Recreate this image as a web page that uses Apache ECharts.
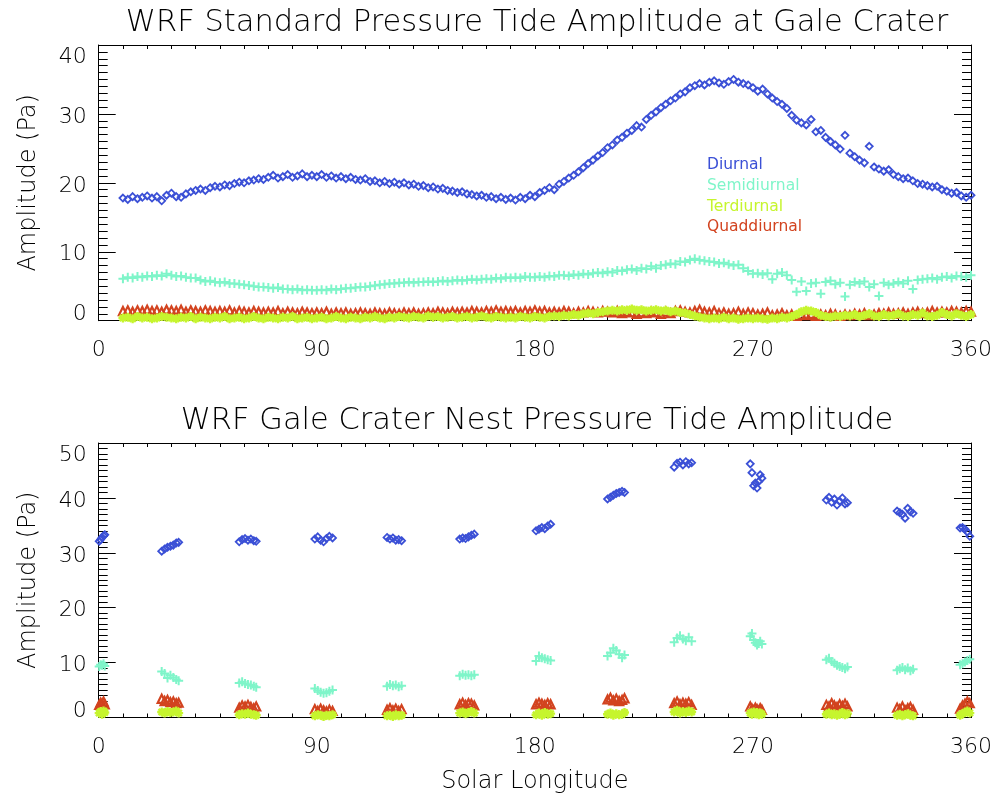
<!DOCTYPE html>
<html>
<head>
<meta charset="utf-8">
<script src="https://cdn.jsdelivr.net/npm/echarts@6/dist/echarts.min.js"></script>
<style>html,body{margin:0;padding:0;background:#fff}#c{width:995px;height:796px}</style>
</head>
<body>
<div id="c"></div>
<script>
// ---------- Top panel: WRF standard (Ls every 2 deg) ----------
const stdLs = [
10,12,14,16,18,20,22,24,26,28,
30,32,34,36,38,40,42,44,46,48,
50,52,54,56,58,60,62,64,66,68,
70,72,74,76,78,80,82,84,86,88,
90,92,94,96,98,100,102,104,106,108,
110,112,114,116,118,120,122,124,126,128,
130,132,134,136,138,140,142,144,146,148,
150,152,154,156,158,160,162,164,166,168,
170,172,174,176,178,180,182,184,186,188,
190,192,194,196,198,200,202,204,206,208,
210,212,214,216,218,220,222,224,226,228,
230,232,234,236,238,240,242,244,246,248,
250,252,254,256,258,260,262,264,266,268,
270,272,274,276,278,280,282,284,286,288,
290,292,294,296,298,300,302,304,306,308,
310,312,314,316,318,320,322,324,326,328,
330,332,334,336,338,340,342,344,346,348,
350,352,354,356,358,360];
const stdDiurnal = [
17.8,17.6,18.0,17.7,17.9,18.1,17.8,18.0,17.4,18.2,
18.5,18.0,17.9,18.4,18.7,18.9,19.1,18.9,19.3,19.5,
19.4,19.7,19.6,19.9,20.1,20.0,20.3,20.4,20.6,20.5,
20.8,21.1,20.7,20.9,21.2,20.8,21.0,21.3,20.9,21.1,
20.9,21.2,20.8,21.0,20.7,20.9,20.6,20.8,20.5,20.4,
20.6,20.2,20.3,20.0,20.2,19.9,20.1,19.8,20.0,19.7,
19.8,19.5,19.6,19.3,19.4,19.1,19.2,18.9,18.8,18.6,
18.7,18.4,18.3,18.1,18.2,17.9,18.0,17.7,17.9,17.6,
17.8,17.5,17.9,17.7,18.2,18.0,18.6,18.9,19.3,19.0,
19.8,20.2,20.7,21.1,21.6,22.2,22.8,23.3,23.9,24.4,
25.1,25.5,26.2,26.6,27.2,27.6,28.3,28.1,29.2,29.8,
30.3,30.9,31.4,31.9,32.3,32.9,33.2,33.8,34.1,34.4,
34.2,34.6,34.8,34.5,34.3,34.7,35.0,34.6,34.4,34.2,
33.8,33.3,33.6,32.9,32.3,31.8,31.4,30.8,29.8,29.1,
28.7,28.4,29.2,27.4,27.6,26.6,26.0,25.5,24.9,26.9,
24.3,23.8,23.3,22.9,25.3,22.3,22.0,21.7,21.9,21.2,
20.9,20.6,20.7,20.3,19.9,19.8,19.6,19.4,19.5,19.0,
18.8,18.5,18.6,18.1,17.9,18.2];
const stdSemidiurnal = [
6.1,6.3,6.2,6.4,6.3,6.5,6.4,6.6,6.5,6.8,
6.6,6.4,6.5,6.3,6.2,6.2,5.9,5.7,5.8,5.6,
5.5,5.6,5.4,5.4,5.3,5.2,5.1,5.0,4.9,4.9,
4.8,4.7,4.8,4.6,4.6,4.5,4.6,4.4,4.5,4.4,
4.4,4.5,4.4,4.6,4.5,4.6,4.7,4.7,4.8,4.9,
4.9,5.0,5.1,5.2,5.3,5.4,5.4,5.5,5.5,5.6,
5.5,5.6,5.6,5.7,5.6,5.7,5.8,5.7,5.8,5.9,
5.8,5.9,6.0,5.9,6.0,6.1,6.0,6.2,6.1,6.3,
6.2,6.3,6.2,6.4,6.3,6.3,6.4,6.3,6.5,6.4,
6.6,6.6,6.5,6.7,6.6,6.8,6.7,6.9,7.0,6.9,
7.1,7.0,7.3,7.2,7.4,7.5,7.3,7.6,7.5,7.9,
7.6,8.0,8.1,8.3,8.2,8.6,8.5,8.8,9.0,8.8,
8.7,8.6,8.5,8.3,8.4,8.2,8.0,8.1,7.6,7.2,
6.8,6.9,6.7,6.9,6.0,6.8,7.0,6.6,5.9,4.2,
5.7,4.3,5.4,5.5,3.9,5.6,5.8,5.3,5.5,3.5,
5.2,5.6,5.4,5.7,4.9,5.3,3.6,5.5,5.2,5.4,
5.6,5.4,5.8,4.6,5.9,6.0,6.1,6.2,6.0,6.3,
6.4,6.2,6.5,6.4,6.3,6.6];
const stdTerdiurnal = [
0.4,0.5,0.3,0.6,0.4,0.5,0.3,0.4,0.6,0.5,
0.4,0.3,0.5,0.4,0.6,0.3,0.5,0.4,0.3,0.5,
0.4,0.6,0.3,0.4,0.5,0.3,0.4,0.6,0.4,0.3,
0.5,0.4,0.3,0.5,0.4,0.6,0.3,0.4,0.5,0.3,
0.4,0.5,0.3,0.4,0.6,0.4,0.3,0.5,0.4,0.3,
0.5,0.4,0.6,0.4,0.3,0.5,0.4,0.6,0.5,0.4,
0.6,0.5,0.4,0.7,0.5,0.6,0.4,0.5,0.6,0.4,
0.5,0.6,0.4,0.5,0.7,0.5,0.4,0.6,0.5,0.4,
0.5,0.4,0.6,0.5,0.4,0.6,0.5,0.4,0.6,0.7,
0.6,0.8,0.7,0.9,0.8,1.0,1.1,1.0,1.2,1.3,
1.4,1.5,1.4,1.6,1.5,1.7,1.5,1.6,1.4,1.5,
1.6,1.4,1.5,1.3,1.4,1.2,1.1,0.9,0.7,0.5,
0.4,0.3,0.4,0.3,0.5,0.3,0.4,0.2,0.3,0.4,
0.3,0.4,0.3,0.2,0.4,0.3,0.5,0.4,0.6,0.9,
1.3,1.5,1.4,1.2,0.8,0.6,0.5,0.7,0.6,0.8,
0.7,0.9,0.6,0.8,1.0,0.7,0.6,0.9,0.7,0.8,
1.0,0.7,0.6,0.9,0.8,1.1,0.7,0.6,0.8,1.2,
0.9,0.7,1.0,0.8,0.6,0.9];
const stdQuaddiurnal = [
1.4,1.5,1.3,1.5,1.4,1.6,1.4,1.5,1.3,1.6,
1.5,1.4,1.6,1.3,1.5,1.4,1.3,1.5,1.4,1.3,
1.4,1.3,1.5,1.2,1.4,1.3,1.2,1.4,1.3,1.2,
1.3,1.2,1.4,1.1,1.3,1.2,1.1,1.3,1.2,1.1,
1.2,1.1,1.3,1.0,1.2,1.1,1.2,1.0,1.1,1.2,
1.1,1.0,1.2,1.1,1.0,1.2,1.1,1.0,1.2,1.1,
1.2,1.0,1.1,1.2,1.1,1.3,1.2,1.1,1.3,1.2,
1.3,1.2,1.4,1.3,1.2,1.4,1.3,1.5,1.3,1.4,
1.3,1.4,1.2,1.4,1.3,1.5,1.3,1.4,1.2,1.3,
1.2,1.4,1.3,1.1,1.3,1.2,1.4,1.3,1.2,1.4,
1.3,1.2,1.4,1.1,1.3,1.2,1.0,1.2,1.1,1.3,
1.2,1.0,1.3,1.1,1.4,1.5,1.3,1.2,1.4,1.6,
1.3,1.2,1.4,1.1,1.2,1.0,1.1,1.3,1.0,1.2,
1.1,0.9,1.0,1.2,0.8,0.9,1.1,0.8,0.9,0.7,
0.9,0.8,1.0,0.7,0.9,0.8,1.0,0.9,0.7,0.9,
0.8,1.0,0.9,1.1,0.8,0.9,1.1,1.0,1.2,1.0,
1.1,1.2,1.0,1.2,1.3,1.1,1.2,1.4,1.2,1.3,
1.2,1.4,1.3,1.2,1.4,1.3];

// ---------- Bottom panel: Gale Crater nest (clusters) ----------
const nestLs = [
0.2,0.8,1.4,2.0,2.5,
26,27.2,28.4,29.6,30.8,32,33,
58,59.2,60.4,61.6,62.8,64,65,
89.2,90.4,91.6,92.8,94,95.2,96.5,
119,120.2,121.4,122.6,123.8,125,
149,150.2,151.4,152.6,153.8,155,
180.5,181.7,182.9,184.1,185.3,186.5,
210,211.2,212.4,213.6,214.8,216,217,
237.5,238.7,239.9,241.1,242.3,243.5,244.7,
268.9,269.6,270.3,271.0,271.7,272.4,273.0,273.7,
300.3,301.4,302.5,303.6,304.7,305.8,306.9,308,309,
329.5,330.6,331.7,332.8,333.9,335,336.1,
355.5,356.5,357.5,358.5,359.5];
const nestDiurnal = [
32.1,32.4,32.8,33.1,33.3,
30.3,30.7,31.0,31.2,31.4,31.8,31.9,
32.0,32.4,32.6,32.3,32.5,32.2,32.1,
32.5,32.9,32.3,32.0,32.6,33.0,32.7,
32.8,32.5,32.7,32.3,32.4,32.2,
32.5,32.7,32.6,32.9,33.2,33.4,
34.0,34.3,34.6,34.4,34.9,35.2,
39.8,40.1,40.5,40.8,41.0,41.2,41.0,
45.6,46.3,46.5,46.0,46.6,46.2,46.4,
46.2,44.6,42.2,42.7,41.8,43.0,44.2,43.6,
39.6,40.1,39.2,39.8,38.7,39.4,40.0,38.9,39.1,
37.6,37.3,37.0,36.3,38.1,37.5,37.2,
34.5,34.6,34.3,33.8,33.0];
const nestSemidiurnal = [
9.3,9.6,9.5,9.8,9.4,
8.4,8.0,7.2,7.7,7.3,6.9,6.7,
6.3,6.5,6.2,6.0,5.9,5.7,5.5,
5.3,4.9,4.6,4.4,4.5,4.8,5.0,
5.7,6.0,5.8,5.9,5.6,5.8,
7.6,7.9,7.7,7.8,7.6,7.8,
10.3,11.2,10.9,10.7,10.5,10.4,
11.2,11.8,12.6,12.2,11.5,10.9,11.4,
13.7,14.5,14.9,14.3,14.0,14.6,13.9,
14.8,15.3,14.1,13.6,13.2,13.5,13.9,13.4,
10.5,10.8,10.2,9.9,9.5,9.3,9.1,8.9,9.2,
8.6,8.9,9.1,8.7,9.0,8.5,8.8,
9.6,9.8,10.1,10.4,10.6];
const nestTerdiurnal = [
0.8,1.1,0.6,1.2,0.9,
1.0,0.8,1.1,0.9,1.0,1.2,0.8,
0.5,0.7,0.6,0.8,0.6,0.5,0.4,
0.3,0.5,0.4,0.2,0.4,0.3,0.5,
0.3,0.4,0.2,0.5,0.3,0.4,
0.8,1.0,0.7,0.9,1.1,0.8,
0.5,0.8,0.4,0.9,0.6,0.7,
0.6,0.8,0.4,0.7,0.5,0.6,0.9,
1.0,1.3,0.8,1.1,0.9,1.2,1.0,
0.8,0.6,1.0,0.7,0.9,0.5,0.8,0.6,
0.6,0.8,0.5,0.7,0.4,0.6,0.9,0.5,0.7,
0.4,0.6,0.3,0.5,0.7,0.4,0.3,
0.4,0.7,0.9,1.2,0.8];
const nestQuaddiurnal = [
2.3,2.7,2.5,2.9,2.4,
3.4,3.0,3.2,2.8,2.9,2.6,2.7,
1.8,2.2,2.0,2.3,1.9,1.7,2.0,
1.5,1.2,1.6,1.3,1.1,1.4,1.2,
1.4,1.7,1.3,1.6,1.2,1.5,
2.4,2.7,2.3,2.6,2.5,2.2,
2.4,2.7,2.5,2.3,2.6,2.4,
3.3,3.6,3.1,3.4,3.0,3.2,3.5,
2.6,2.9,2.4,2.7,2.5,2.8,2.3,
2.0,1.6,1.3,1.8,1.5,1.2,1.7,1.4,
2.3,2.0,2.6,2.2,1.9,2.4,2.1,2.5,2.0,
1.8,1.5,2.0,1.3,1.7,1.9,1.4,
1.6,2.2,2.5,2.9,2.6];

const seriesNames = ['Diurnal','Semidiurnal','Terdiurnal','Quaddiurnal'];
const titles = ['WRF Standard Pressure Tide Amplitude at Gale Crater','WRF Gale Crater Nest Pressure Tide Amplitude'];
const yMaxTop = 40, yMaxBottom = 50;

// ---------- styling ----------
const FONT = 'DejaVu Sans';
const FW = 200;
const COLORS = {Diurnal:'#3b50d6', Semidiurnal:'#7ff5c9', Terdiurnal:'#c6f52e', Quaddiurnal:'#d2431f'};
const SYM = {
  Diurnal: 'diamond',
  Semidiurnal: 'path://M0,5L10,5M5,0L5,10',
  Terdiurnal: 'path://M0,5L10,5M5,0L5,10M1.5,1.5L8.5,8.5M1.5,8.5L8.5,1.5',
  Quaddiurnal: 'triangle'
};
const SIZE = {Diurnal:7, Semidiurnal:9, Terdiurnal:9, Quaddiurnal:8};
const BW = {Diurnal:1.8, Semidiurnal:2, Terdiurnal:2.4, Quaddiurnal:2.2};

function pairs(xs, ys){ return xs.map((x,i)=>[x, ys[i]]); }
function scatter(name, grid, xs, ys){
  return {
    name, type:'scatter', xAxisIndex: grid*2, yAxisIndex: grid*2,
    data: pairs(xs, ys), symbol: SYM[name], symbolSize: SIZE[name],
    itemStyle:{color:'rgba(0,0,0,0)', borderColor: COLORS[name], borderWidth:BW[name], opacity:1},
    emphasis:{disabled:true}, animation:false, clip:true
  };
}

const gridTop = {left:98.7, right:22.3, top:45, height:275.7};
const gridBot = {left:98.7, right:22.3, top:443, height:274.5};

function xAxes(g){
  const base = {gridIndex:g, type:'value', min:0, max:360, interval:90,
    axisLine:{show:true, onZero:false, lineStyle:{color:'#000', width:1}},
    axisTick:{show:true, inside:true, length:4, lineStyle:{color:'#000'}},
    minorTick:{show:true, splitNumber:9, length:4, lineStyle:{color:'#000'}},
    splitLine:{show:false}};
  return [
    Object.assign({}, base, {position:'bottom',
      axisLabel:{show:true, fontSize:22, fontWeight:FW, color:'#000', fontFamily:FONT, margin:19},
      name: g===1 ? 'Solar Longitude' : '', nameLocation:'middle', nameGap:52,
      nameTextStyle:{fontSize:24, fontWeight:FW, color:'#000', fontFamily:FONT}}),
    Object.assign({}, base, {position:'top', axisLabel:{show:false}})
  ];
}
function yAxes(g, max){
  const base = {gridIndex:g, type:'value', min:0, max:max, interval:10,
    axisLine:{show:true, onZero:false, lineStyle:{color:'#000', width:1}},
    axisTick:{show:true, inside:true, length:17, lineStyle:{color:'#000'}},
    minorTick:{show:true, splitNumber:10, length:9, lineStyle:{color:'#000'}},
    splitLine:{show:false}};
  const rich = {
    n:{fontSize:22, fontWeight:FW, fontFamily:FONT, color:'#000', padding:[6,0,0,0]},
    hi:{fontSize:22, fontWeight:FW, fontFamily:FONT, color:'#000', padding:[24,0,0,0]},
    lo:{fontSize:22, fontWeight:FW, fontFamily:FONT, color:'#000', padding:[0,0,12,0]}
  };
  return [
    Object.assign({}, base, {position:'left',
      axisLabel:{show:true, fontSize:22, fontWeight:FW, color:'#000', fontFamily:FONT, margin:12, rich,
        formatter: v => v===max ? '{hi|'+v+'}' : (v===0 ? '{lo|'+v+'}' : '{n|'+v+'}')},
      name:'Amplitude (Pa)', nameLocation:'middle', nameGap:58,
      nameTextStyle:{fontSize:24, fontWeight:FW, color:'#000', fontFamily:FONT}}),
    Object.assign({}, base, {position:'right', axisLabel:{show:false}})
  ];
}

const order = ['Diurnal','Semidiurnal','Quaddiurnal','Terdiurnal'];
const topData = {Diurnal:stdDiurnal, Semidiurnal:stdSemidiurnal, Terdiurnal:stdTerdiurnal, Quaddiurnal:stdQuaddiurnal};
const botData = {Diurnal:nestDiurnal, Semidiurnal:nestSemidiurnal, Terdiurnal:nestTerdiurnal, Quaddiurnal:nestQuaddiurnal};
const series = [];
order.forEach(n => series.push(scatter(n, 0, stdLs, topData[n])));
order.forEach(n => series.push(scatter(n, 1, nestLs, botData[n])));

const option = {
  animation:false,
  backgroundColor:'#fff',
  textStyle:{fontFamily:FONT},
  title: [
    {text:titles[0], left:532, top:3, textAlign:'center', textStyle:{fontSize:30.5, fontWeight:FW, color:'#000', fontFamily:FONT}},
    {text:titles[1], left:532, top:401, textAlign:'center', textStyle:{fontSize:30.5, fontWeight:FW, color:'#000', fontFamily:FONT}}
  ],
  legend: {
    orient:'vertical', left:702, top:157, padding:0, itemGap:4.8, itemWidth:0, itemHeight:16,
    icon:'none', selectedMode:false,
    data: seriesNames.map(n => ({name:n, icon:'none', textStyle:{color:COLORS[n], fontSize:15.5, fontWeight:'normal', fontFamily:FONT}}))
  },
  grid:[gridTop, gridBot],
  xAxis:[...xAxes(0), ...xAxes(1)],
  yAxis:[...yAxes(0, yMaxTop), ...yAxes(1, yMaxBottom)],
  series
};

const chart = echarts.init(document.getElementById('c'), null, {renderer:'canvas'});
chart.setOption(option);
</script>
</body>
</html>
